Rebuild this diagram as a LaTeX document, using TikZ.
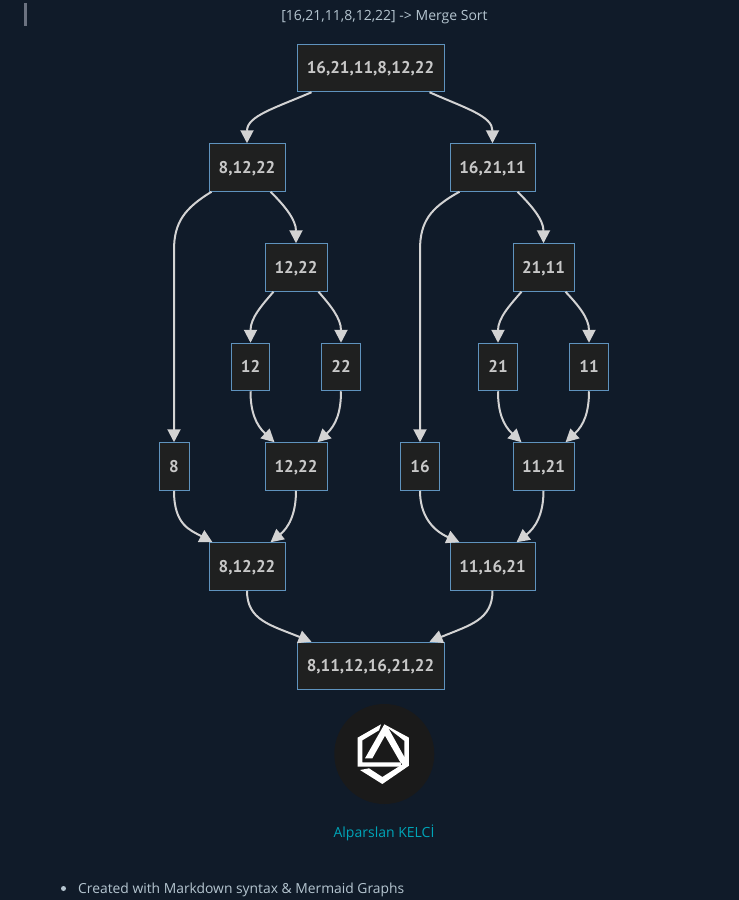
\documentclass[tikz,border=0pt]{standalone}
\usepackage{fontspec}
\setmainfont{Open Sans}
\newfontfamily\nodefont{PT Sans}
\usetikzlibrary{arrows.meta}
\definecolor{bgc}{HTML}{101B29}
\definecolor{boxc}{HTML}{1F2020}
\definecolor{edgec}{HTML}{5F93BE}
\definecolor{linec}{HTML}{D3D3D3}
\definecolor{txtc}{HTML}{C8C8C8}
\definecolor{headc}{HTML}{B5C5D0}
\definecolor{tealc}{HTML}{00A5B8}
\definecolor{barc}{HTML}{6B7280}
\definecolor{logoc}{HTML}{1A1A1A}
\tikzset{
 nd/.style={draw=edgec,fill=boxc,line width=1pt,minimum height=47.5pt,inner sep=0pt,text height=11.9pt,text depth=0pt,text=txtc,font=\nodefont\bfseries\fontsize{17}{19}\selectfont},
 con/.style={draw=linec,line width=2pt,-{Triangle[length=13pt,width=13pt]}},
 head/.style={text=headc,inner sep=0pt}
}
\begin{document}
\begin{tikzpicture}[x=1pt,y=-1pt]
\useasboundingbox (0,0) rectangle (739,900);
\fill[bgc] (0,0) rectangle (739,900);
\fill[barc] (24.3,3) rectangle (27,26);
\node[head,font=\fontsize{14}{16}\selectfont] (title) at (384.5,17) {[16,21,11,8,12,22] -> Merge Sort};
\node[nd,minimum width=147pt] (a) at (370.5,68) {16,21,11,8,12,22};
\node[nd,minimum width=76pt] (b) at (247,167.5) {8,12,22};
\node[nd,minimum width=85pt] (c) at (492.5,167.5) {16,21,11};
\node[nd,minimum width=62pt] (d) at (296,267.5) {12,22};
\node[nd,minimum width=38.5pt] (e) at (250.5,367) {12};
\node[nd,minimum width=38.5pt] (f) at (341,367) {22};
\node[nd,minimum width=30pt] (g) at (174,466.5) {8};
\node[nd,minimum width=62pt] (h) at (296,466.5) {12,22};
\node[nd,minimum width=61pt] (i) at (543.5,267.5) {21,11};
\node[nd,minimum width=38.5pt] (j) at (498,367) {21};
\node[nd,minimum width=38.5pt] (k) at (589,367) {11};
\node[nd,minimum width=38.5pt] (l) at (420,466.5) {16};
\node[nd,minimum width=61pt] (m) at (543.5,466.5) {11,21};
\node[nd,minimum width=76pt] (n) at (247,566.5) {8,12,22};
\node[nd,minimum width=85pt] (o) at (492.5,566.5) {11,16,21};
\node[nd,minimum width=147pt] (p) at (370.5,666) {8,11,12,16,21,22};
% connectors
\draw[con] (a.south west)++(15,0) .. controls (275,108) and (247,116) .. (b.north);
\draw[con] (a.south east)++(-15,0) .. controls (465,108) and (492.5,116) .. (c.north);
\draw[con] (b.south west)++(3,0) .. controls (185,208) and (174,222) .. (174,250) -- (g.north);
\draw[con] (b.south east)++(-15,0) .. controls (285,206) and (296,220) .. (d.north);
\draw[con] (c.south west)++(10,0) .. controls (430,208) and (420,222) .. (420,250) -- (l.north);
\draw[con] (c.south east)++(-18,0) .. controls (532,206) and (543.5,220) .. (i.north);
\draw[con] (d.south west)++(9,0) .. controls (262,305) and (250.5,318) .. (e.north);
\draw[con] (d.south east)++(-9,0) .. controls (330,305) and (341,318) .. (f.north);
\draw[con] (i.south west)++(9,0) .. controls (510,305) and (498,318) .. (j.north);
\draw[con] (i.south east)++(-9,0) .. controls (578,305) and (589,318) .. (k.north);
\draw[con] (e.south) .. controls (250.5,412) and (256,425) .. ([xshift=10pt]h.north west);
\draw[con] (f.south) .. controls (341,412) and (336,425) .. ([xshift=-10pt]h.north east);
\draw[con] (j.south) .. controls (498,412) and (503,425) .. ([xshift=9pt]m.north west);
\draw[con] (k.south) .. controls (589,412) and (584,425) .. ([xshift=-9pt]m.north east);
\draw[con] (g.south) .. controls (174,525) and (190,530) .. ([xshift=4pt]n.north west);
\draw[con] (h.south) .. controls (296,515) and (288,528) .. ([xshift=-15pt]n.north east);
\draw[con] (l.south) .. controls (420,515) and (432,530) .. ([xshift=10pt]o.north west);
\draw[con] (m.south) .. controls (543.5,515) and (535,528) .. ([xshift=-19pt]o.north east);
\draw[con] (n.south) .. controls (247,620) and (270,625) .. ([xshift=15pt]p.north west);
\draw[con] (o.south) .. controls (492.5,620) and (470,625) .. ([xshift=-15pt]p.north east);
% logo
\fill[logoc] (384.3,754) circle (50);
\begin{scope}[shift={(345,715)},x=0.3333pt,y=-0.3333pt]
\fill[white] (108,28) -- (38,68) -- (38,155) -- (168,155) -- (168,142) -- (52,142) -- (52,76) -- (102,46) -- cycle;
\fill[white] (118,28) -- (192,68) -- (192,152) -- (112,207) -- (45,165) -- (72,160) -- (112,186) -- (172,148) -- (165,140) -- (120,62) -- (82,130) -- (60,130) -- cycle;
\fill[logoc] (132,42) -- (178,78) -- (178,125) -- cycle;
\end{scope}
\node[head,text=tealc,font=\fontsize{14}{16}\selectfont] (auth) at (384,833) {Alparslan KELCİ};
\fill[headc] (63.5,888.5) circle (2.5);
\node[head,anchor=west,font=\fontsize{13.85}{16}\selectfont] (li) at (78,890) {Created with Markdown syntax \& Mermaid Graphs};
\end{tikzpicture}
\end{document}
